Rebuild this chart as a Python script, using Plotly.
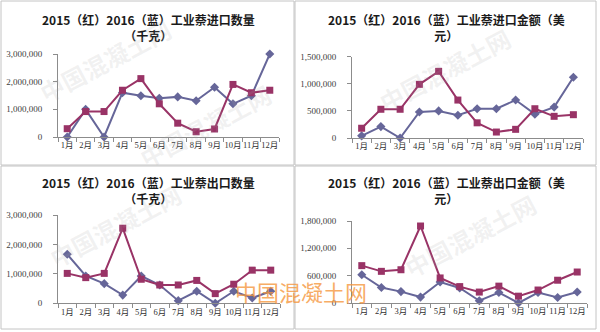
import plotly.graph_objects as go

months = ["1月", "2月", "3月", "4月", "5月", "6月", "7月", "8月", "9月", "10月", "11月", "12月"]

titles = [
    "2015（红）2016（蓝）工业萘进口数量<br>（千克）",
    "2015（红）2016（蓝）工业萘进口金额（美<br>元）",
    "2015（红）2016（蓝）工业萘出口数量<br>（千克）",
    "2015（红）2016（蓝）工业萘出口金额（美<br>元）",
]

# 2015 (red) and 2016 (blue) series per panel
import_qty_2015 = [300000, 920000, 920000, 1690000, 2110000, 1200000, 500000, 190000, 290000, 1900000, 1600000, 1690000]
import_qty_2016 = [0, 1000000, 0, 1600000, 1490000, 1400000, 1450000, 1310000, 1800000, 1200000, 1490000, 3000000]

import_val_2015 = [180000, 530000, 530000, 990000, 1230000, 700000, 280000, 110000, 160000, 540000, 400000, 430000]
import_val_2016 = [40000, 210000, 0, 480000, 500000, 420000, 540000, 540000, 700000, 440000, 570000, 1120000]

export_qty_2015 = [1020000, 875000, 1020000, 2560000, 820000, 625000, 625000, 780000, 330000, 650000, 1130000, 1130000]
export_qty_2016 = [1670000, 930000, 670000, 280000, 930000, 625000, 90000, 410000, 0, 410000, 180000, 410000]

export_val_2015 = [820000, 695000, 730000, 1690000, 550000, 360000, 240000, 370000, 150000, 285000, 500000, 680000]
export_val_2016 = [620000, 340000, 250000, 130000, 460000, 330000, 50000, 230000, 0, 230000, 120000, 240000]

y_ranges = [[0, 3000000], [0, 1500000], [0, 3000000], [0, 1800000]]
y_dticks = [1000000, 500000, 1000000, 600000]

W, H = 600, 332
def px(x):
    return x / W
def py(y):
    return 1 - y / H

# plot-area pixel boxes: (x0, x1, ytop, ybottom)
boxes = [
    (58, 279, 54, 137),
    (352, 583, 56.7, 138),
    (58, 280, 215.3, 303.3),
    (352, 587, 221, 303),
]
title_y = [28, 28, 190, 190]
title_x = [148, 446, 148, 446]

RED = "#993366"
BLUE = "#666699"

series = [
    (import_qty_2015, import_qty_2016),
    (import_val_2015, import_val_2016),
    (export_qty_2015, export_qty_2016),
    (export_val_2015, export_val_2016),
]

fig = go.Figure()
ytick_font = dict(family="Liberation Serif, Noto Sans CJK SC", size=9, color="#404040")
xtick_font = dict(family="Liberation Serif, Noto Sans CJK SC", size=8.5, color="#303030")
layout = {}
annotations = []
for i, ((s15, s16), box) in enumerate(zip(series, boxes)):
    xa = "x" if i == 0 else f"x{i+1}"
    ya = "y" if i == 0 else f"y{i+1}"
    fig.add_trace(go.Scatter(
        x=months, y=s16, mode="lines+markers", xaxis=xa, yaxis=ya,
        line=dict(color=BLUE, width=2),
        marker=dict(symbol="diamond", size=7, color=BLUE),
        showlegend=False, cliponaxis=False,
    ))
    fig.add_trace(go.Scatter(
        x=months, y=s15, mode="lines+markers", xaxis=xa, yaxis=ya,
        line=dict(color=RED, width=2),
        marker=dict(symbol="square", size=7, color=RED),
        showlegend=False, cliponaxis=False,
    ))
    x0, x1, yt, yb = box
    xk = "xaxis" if i == 0 else f"xaxis{i+1}"
    yk = "yaxis" if i == 0 else f"yaxis{i+1}"
    layout[xk] = dict(
        domain=[px(x0), px(x1)], anchor=ya, type="category",
        showline=True, linecolor="#8c8c8c", linewidth=1,
        ticks="outside", ticklen=4, tickcolor="#8c8c8c", tickson="boundaries",
        showgrid=False, zeroline=False, tickfont=xtick_font, tickangle=0,
        range=[-0.5, 11.5], fixedrange=True, automargin=False,
    )
    layout[yk] = dict(
        domain=[py(yb), py(yt)], anchor=xa,
        range=y_ranges[i], dtick=y_dticks[i], tick0=0,
        showline=True, linecolor="#8c8c8c", linewidth=1,
        ticks="outside", ticklen=4, tickcolor="#8c8c8c",
        showgrid=False, zeroline=False, tickformat=",d",
        tickfont=ytick_font, ticklabelstandoff=9, automargin=False,
    )
    annotations.append(dict(
        text=titles[i], xref="paper", yref="paper",
        x=px(title_x[i]), y=py(title_y[i]), xanchor="center", yanchor="middle",
        showarrow=False, align="center",
        font=dict(family="Noto Sans CJK SC", size=12, color="#1a1a1a", weight="bold"),
    ))

# faint diagonal watermarks
wm = [(105, 60, 24), (205, 125, 24), (445, 70, 24), (115, 225, 24), (470, 235, 24)]
for (wx, wy, s) in wm:
    annotations.append(dict(
        text="中国混凝土网", xref="paper", yref="paper", x=px(wx), y=py(wy),
        xanchor="center", yanchor="middle", showarrow=False, textangle=-28,
        font=dict(family="Noto Sans CJK SC", size=s, color="rgba(170,170,170,0.16)", weight="bold"),
    ))

# orange watermark
annotations.append(dict(
    text="中国混凝土网", xref="paper", yref="paper", x=px(301), y=py(291),
    xanchor="center", yanchor="middle", showarrow=False,
    font=dict(family="Noto Sans CJK SC", size=22, color="rgba(245,150,60,0.8)"),
))

shapes = []
for (a, b, c, d) in [(1, 1, 294, 165), (295, 1, 596, 165), (1, 166, 294, 329), (295, 166, 596, 329)]:
    shapes.append(dict(type="rect", xref="paper", yref="paper",
                       x0=px(a), x1=px(c), y0=py(d), y1=py(b),
                       line=dict(color="#c4c4c4", width=1), fillcolor="rgba(0,0,0,0)"))

fig.update_layout(
    width=W, height=H, margin=dict(l=0, r=0, t=0, b=0),
    paper_bgcolor="white", plot_bgcolor="white",
    annotations=annotations, shapes=shapes, **layout,
)
fig.write_html("out.html")
